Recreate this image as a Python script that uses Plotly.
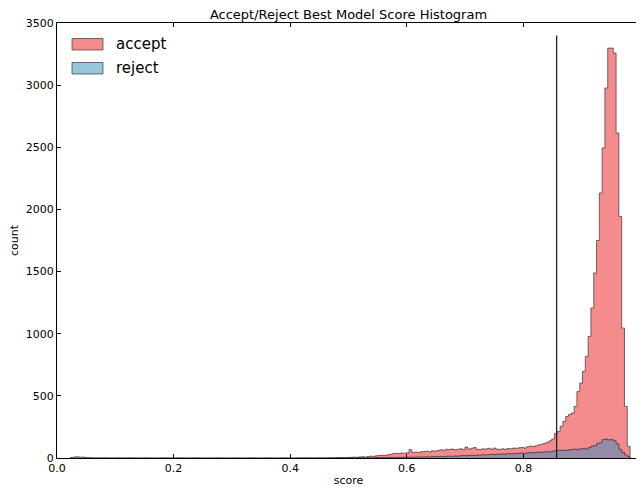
import plotly.graph_objects as go

# ---- data ----
bin_start = 0.023
bin_width = 0.0048
threshold = 0.857
threshold_top = 3400

accept_counts = [
    0, 0, 0, 0, 0, 0, 0, 0, 0, 0,
    0, 0, 0, 0, 0, 0, 0, 0, 0, 0,
    0, 0, 0, 0, 0, 0, 0, 0, 0, 0,
    0, 0, 0, 0, 0, 0, 0, 0, 0, 0,
    0, 0, 0, 0, 0, 0, 0, 0, 0, 0,
    0, 0, 0, 0, 0, 0, 0, 0, 0, 0,
    0, 0, 0, 0, 0, 0, 0, 0, 0, 0,
    0, 0, 0, 0, 0, 0, 0, 0, 0, 0,
    0, 0, 1, 0, 0, 1, 0, 0, 1, 0,
    1, 0, 2, 1, 2, 3, 3, 4, 3, 5,
    6, 7, 6, 9, 10, 8, 12, 15, 13, 18,
    20, 22, 20, 26, 30, 35, 38, 36, 40, 38,
    42, 67, 45, 48, 44, 50, 52, 55, 50, 58,
    56, 60, 66, 62, 70, 68, 72, 66, 70, 74,
    68, 88, 72, 78, 84, 70, 68, 74, 72, 78,
    70, 80, 72, 68, 74, 70, 76, 74, 80, 78,
    82, 85, 80, 90, 96, 92, 98, 105, 110, 118,
    126, 138, 153, 196, 215, 255, 295, 335, 349, 362,
    416, 536, 603, 697, 818, 979, 1207, 1489, 1750, 2132,
    2494, 2977, 3298, 3298, 3258, 2615, 1944, 1046, 415, 93,
]

reject_counts = [
    4, 8, 10, 6, 8, 5, 3, 2, 0, 1,
    0, 0, 1, 0, 0, 0, 0, 1, 0, 0,
    0, 1, 0, 0, 0, 0, 1, 0, 0, 0,
    0, 0, 0, 1, 0, 0, 0, 0, 0, 1,
    0, 0, 0, 0, 0, 1, 0, 0, 0, 0,
    0, 0, 1, 0, 0, 0, 0, 0, 1, 0,
    0, 0, 0, 0, 1, 0, 0, 0, 0, 0,
    1, 0, 0, 0, 0, 0, 1, 0, 0, 0,
    0, 1, 0, 0, 1, 0, 0, 1, 0, 1,
    1, 0, 1, 1, 0, 2, 1, 1, 2, 1,
    2, 1, 2, 2, 3, 2, 3, 3, 2, 4,
    3, 4, 3, 4, 5, 4, 5, 6, 5, 6,
    6, 7, 6, 8, 7, 9, 8, 10, 9, 11,
    12, 11, 13, 12, 14, 15, 14, 16, 15, 18,
    20, 18, 21, 22, 20, 24, 23, 26, 25, 27,
    30, 28, 31, 30, 33, 32, 35, 34, 36, 37,
    38, 40, 37, 42, 44, 41, 46, 48, 45, 50,
    52, 48, 55, 58, 62, 60, 64, 62, 66, 70,
    72, 68, 74, 78, 72, 84, 96, 100, 118, 122,
    148, 152, 146, 148, 138, 115, 70, 45, 25, 10,
]

series_names = ["accept", "reject"]
x_ticks = [0.0, 0.2, 0.4, 0.6, 0.8, 1.0]
y_ticks = [0, 500, 1000, 1500, 2000, 2500, 3000, 3500]

# ---- styles ----
fills = ["rgba(235,45,50,0.55)", "rgba(52,138,189,0.5)"]
edge = "rgba(30,30,30,0.6)"
FONT = "DejaVu Sans"

# page is shown with an 8px body margin; size the figure to the visible area
OFF = 8
W, H = 644 - OFF, 487 - OFF
# plot area in page pixels: left 57, right 640, top 23, bottom 458
ml, mr, mt, mb = 57 - OFF, 644 - 640, 23 - OFF, 487 - 458
pw, ph = W - ml - mr, H - mt - mb


def step_xy(counts):
    n = len(counts)
    edges = [bin_start + bin_width * k for k in range(n + 1)]
    xs = [edges[0]] + edges
    ys = [0] + list(counts) + [0]
    return xs, ys


fig = go.Figure()
for name, counts, fc in zip(series_names, [accept_counts, reject_counts], fills):
    xs, ys = step_xy(counts)
    fig.add_trace(go.Scatter(
        x=xs, y=ys, mode="lines", line=dict(shape="hv", color=edge, width=1),
        fill="tozeroy", fillcolor=fc, name=name, showlegend=False,
    ))

# threshold line
fig.add_shape(type="line", xref="x", yref="y", x0=threshold, x1=threshold,
              y0=0, y1=threshold_top, line=dict(color="#222222", width=1.3),
              layer="above")


def px2paper(px, py):
    # page pixel -> paper coords
    return (px - OFF - ml) / pw, 1 - (py - OFF - mt) / ph


legend_rows = [(38.5, 50), (62.5, 74)]
for (y0, y1), name, fc in zip(legend_rows, series_names, fills):
    xa, ya = px2paper(72, y1)
    xb, yb = px2paper(103, y0)
    fig.add_shape(type="rect", xref="paper", yref="paper", x0=xa, x1=xb, y0=ya, y1=yb,
                  fillcolor=fc, line=dict(color=edge, width=1), layer="above")
    tx, ty = px2paper(114, (y0 + y1) / 2)
    fig.add_annotation(xref="paper", yref="paper", x=tx, y=ty, text=name,
                       showarrow=False, xanchor="left", yanchor="middle",
                       font=dict(family=FONT, size=15, color="black"))

axis_common = dict(
    showline=True, linecolor="black", linewidth=1, mirror="allticks",
    ticks="inside", ticklen=4, tickcolor="black", tickwidth=1,
    showgrid=False, zeroline=False, automargin=False,
    tickfont=dict(family=FONT, size=11, color="black"),
)

fig.update_xaxes(range=[0, 1.0], tickvals=x_ticks, tickformat=".1f",
                 title=dict(text="score", font=dict(family=FONT, size=11, color="black"), standoff=2),
                 **axis_common)
fig.update_yaxes(range=[0, 3500], tickvals=y_ticks, tickformat="d",
                 title=dict(text="count", font=dict(family=FONT, size=11, color="black"), standoff=8),
                 **axis_common)

fig.update_layout(
    width=W, height=H,
    margin=dict(l=ml, r=mr, t=mt, b=mb, pad=0, autoexpand=False),
    paper_bgcolor="white", plot_bgcolor="white",
    title=dict(text="Accept/Reject Best Model Score Histogram", x=(ml + pw / 2) / W,
               xanchor="center", y=1 - (14 - OFF) / H, yanchor="middle",
               font=dict(family=FONT, size=13, color="black")),
    font=dict(family=FONT),
    showlegend=False,
)

fig.write_html("out.html")
